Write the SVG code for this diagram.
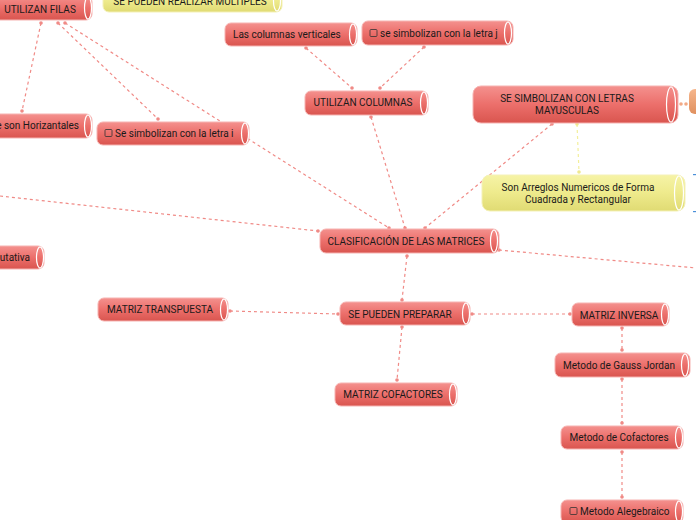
<svg xmlns="http://www.w3.org/2000/svg" width="696" height="520" viewBox="0 0 696 520">
<defs>
<linearGradient id="gr" x1="0" y1="0" x2="0" y2="1">
<stop offset="0" stop-color="#f4918e"/>
<stop offset="0.5" stop-color="#ec6f6b"/>
<stop offset="1" stop-color="#d9554f"/>
</linearGradient>
<linearGradient id="gy" x1="0" y1="0" x2="0" y2="1">
<stop offset="0" stop-color="#f6f3a6"/>
<stop offset="0.5" stop-color="#eeea8c"/>
<stop offset="1" stop-color="#e0db73"/>
</linearGradient>
<linearGradient id="go" x1="0" y1="0" x2="0" y2="1">
<stop offset="0" stop-color="#f6b68c"/>
<stop offset="1" stop-color="#e0905f"/>
</linearGradient>
</defs>
<style>
.n{fill:url(#gr);stroke:#f6b3b1;stroke-width:1}
.y{fill:url(#gy);stroke:#f4f1b8;stroke-width:1}
.e{fill:none;stroke:#ffffff;stroke-width:1.2}
.t{font-family:Roboto,"Liberation Sans",sans-serif;font-size:10px;fill:#1a1a1a}
.m{text-anchor:middle}
.c{fill:none;stroke:#f08a86;stroke-width:1.2;stroke-dasharray:3,3}
.cy{fill:none;stroke:#f3ef9a;stroke-width:1.2;stroke-dasharray:3,3}
.d{fill:#f08a86}
.dy{fill:#efe98f}
.cb{fill:none;stroke:#333;stroke-width:0.8}
.b{fill:#4a90d9}
</style>
<g id="connectors">
<line class="c" x1="41" y1="23" x2="22" y2="111"/>
<line class="c" x1="58" y1="23" x2="158" y2="119"/>
<line class="c" x1="65" y1="23" x2="389" y2="228"/>
<line class="c" x1="0" y1="196" x2="318" y2="231"/>
<line class="c" x1="306" y1="48" x2="352" y2="88"/>
<line class="c" x1="424" y1="47" x2="380" y2="88"/>
<line class="c" x1="371" y1="117" x2="405" y2="228"/>
<line class="c" x1="552" y1="124" x2="425" y2="228"/>
<line class="cy" x1="577" y1="124" x2="579" y2="172"/>
<line class="c" x1="499" y1="250" x2="696" y2="268"/>
<line class="c" x1="407" y1="256" x2="402" y2="300"/>
<line class="c" x1="230" y1="311" x2="338" y2="314"/>
<line class="c" x1="402" y1="327" x2="397" y2="380"/>
<line class="c" x1="472" y1="314" x2="570" y2="314"/>
<line class="c" x1="622" y1="328" x2="622" y2="350"/>
<line class="c" x1="622" y1="379" x2="622" y2="423"/>
<line class="c" x1="622" y1="452" x2="622" y2="497"/>
<rect class="b" x="693" y="174" width="3" height="1.2"/>
<rect class="b" x="693" y="211" width="3" height="1.2"/>
<circle class="d" cx="41" cy="23" r="1.8"/><circle class="d" cx="22" cy="111" r="1.8"/>
<circle class="d" cx="58" cy="23" r="1.8"/><circle class="d" cx="158" cy="119" r="1.8"/>
<circle class="d" cx="65" cy="23" r="1.8"/><circle class="d" cx="389" cy="228" r="1.8"/>
<circle class="d" cx="318" cy="231" r="1.8"/>
<circle class="d" cx="306" cy="48" r="1.8"/><circle class="d" cx="352" cy="88" r="1.8"/>
<circle class="d" cx="424" cy="47" r="1.8"/><circle class="d" cx="380" cy="88" r="1.8"/>
<circle class="d" cx="371" cy="117" r="1.8"/><circle class="d" cx="405" cy="228" r="1.8"/>
<circle class="d" cx="552" cy="124" r="1.8"/><circle class="d" cx="425" cy="228" r="1.8"/>
<circle class="dy" cx="577" cy="124" r="1.8"/><circle class="dy" cx="579" cy="172" r="1.8"/>
<circle class="d" cx="499" cy="250" r="1.8"/>
<circle class="d" cx="407" cy="256" r="1.8"/><circle class="d" cx="402" cy="300" r="1.8"/>
<circle class="d" cx="230" cy="311" r="1.8"/><circle class="d" cx="338" cy="314" r="1.8"/>
<circle class="d" cx="402" cy="327" r="1.8"/><circle class="d" cx="397" cy="380" r="1.8"/>
<circle class="d" cx="472" cy="314" r="1.8"/><circle class="d" cx="570" cy="314" r="1.8"/>
<circle class="d" cx="622" cy="328" r="1.8"/><circle class="d" cx="622" cy="350" r="1.8"/>
<circle class="d" cx="622" cy="379" r="1.8"/><circle class="d" cx="622" cy="423" r="1.8"/>
<circle class="d" cx="622" cy="452" r="1.8"/><circle class="d" cx="622" cy="497" r="1.8"/>
<circle cx="681" cy="104" r="1.8" fill="#f2a985"/><circle cx="686" cy="104" r="1.8" fill="#f2a985"/>
</g>
<g id="utilizan-filas">
<rect class="n" x="-12" y="-4" width="104" height="24" rx="6"/>
<ellipse class="e" cx="88" cy="8" rx="3.5" ry="11"/>
<text class="t m" x="40" y="13">UTILIZAN FILAS</text>
</g>
<g id="multiples">
<rect class="y" x="103" y="-10" width="179" height="22" rx="6"/>
<ellipse class="e" cx="277" cy="1" rx="3.5" ry="10"/>
<text class="t m" x="190" y="5">SE PUEDEN REALIZAR MULTIPLES</text>
</g>
<g id="columnas-verticales">
<rect class="n" x="225" y="23" width="132" height="23" rx="6"/>
<ellipse class="e" cx="353" cy="34.5" rx="3.5" ry="10.5"/>
<text class="t" x="233" y="38">Las columnas verticales</text>
</g>
<g id="letra-j">
<rect class="n" x="362" y="21" width="151" height="24" rx="6"/>
<ellipse class="e" cx="508" cy="33" rx="3.5" ry="11"/>
<rect class="cb" x="370" y="29.5" width="7" height="7" rx="1"/>
<text class="t" x="380" y="37">se simbolizan con la letra j</text>
</g>
<g id="utilizan-columnas">
<rect class="n" x="305" y="91" width="123" height="24" rx="6"/>
<ellipse class="e" cx="424" cy="103" rx="3.5" ry="11"/>
<text class="t m" x="363" y="106">UTILIZAN COLUMNAS</text>
</g>
<g id="mayusculas">
<rect class="n" x="473" y="86" width="205" height="37" rx="8"/>
<ellipse class="e" cx="671" cy="104.5" rx="4.5" ry="17.5"/>
<text class="t m" x="567" y="102">SE SIMBOLIZAN CON LETRAS</text>
<text class="t m" x="567" y="114">MAYUSCULAS</text>
</g>
<g id="orange-node">
<rect x="689" y="89" width="20" height="25" rx="6" fill="url(#go)"/>
</g>
<g id="arreglos">
<rect class="y" x="482" y="175" width="203" height="36" rx="8"/>
<ellipse class="e" cx="679" cy="193" rx="4.5" ry="17"/>
<text class="t m" x="578" y="191">Son Arreglos Numericos de Forma</text>
<text class="t m" x="578" y="203">Cuadrada y Rectangular</text>
</g>
<g id="horizantales">
<rect class="n" x="-12" y="114" width="104" height="24" rx="6"/>
<ellipse class="e" cx="88" cy="126" rx="3.5" ry="11"/>
<text class="t" x="79" y="129" text-anchor="end">e son Horizantales</text>
</g>
<g id="letra-i">
<rect class="n" x="97" y="122" width="152" height="23" rx="6"/>
<ellipse class="e" cx="245" cy="133.5" rx="3.5" ry="10.5"/>
<rect class="cb" x="105" y="129.5" width="7" height="7" rx="1"/>
<text class="t" x="115" y="137">Se simbolizan con la letra i</text>
</g>
<g id="clasificacion">
<rect class="n" x="320" y="229" width="179" height="24" rx="6"/>
<ellipse class="e" cx="494" cy="241" rx="3.5" ry="11"/>
<text class="t m" x="406" y="245">CLASIFICACIÓN DE LAS MATRICES</text>
</g>
<g id="conmutativa">
<rect class="n" x="-12" y="246" width="56" height="23" rx="6"/>
<ellipse class="e" cx="40" cy="257.5" rx="3.5" ry="10.5"/>
<text class="t" x="30" y="261" text-anchor="end">utativa</text>
</g>
<g id="transpuesta">
<rect class="n" x="98" y="298" width="130" height="23" rx="6"/>
<ellipse class="e" cx="224" cy="309.5" rx="3.5" ry="10.5"/>
<text class="t m" x="160" y="313">MATRIZ TRANSPUESTA</text>
</g>
<g id="preparar">
<rect class="n" x="340" y="302" width="130" height="23" rx="6"/>
<ellipse class="e" cx="466" cy="313.5" rx="3.5" ry="10.5"/>
<text class="t m" x="400" y="318">SE PUEDEN PREPARAR</text>
</g>
<g id="cofactores-matriz">
<rect class="n" x="335" y="383" width="122" height="23" rx="6"/>
<ellipse class="e" cx="453" cy="394.5" rx="3.5" ry="10.5"/>
<text class="t m" x="393" y="398">MATRIZ COFACTORES</text>
</g>
<g id="inversa">
<rect class="n" x="572" y="303" width="97" height="23" rx="6"/>
<ellipse class="e" cx="665" cy="314.5" rx="3.5" ry="10.5"/>
<text class="t m" x="619" y="319">MATRIZ INVERSA</text>
</g>
<g id="gauss">
<rect class="n" x="555" y="353" width="135" height="24" rx="6"/>
<ellipse class="e" cx="685" cy="365" rx="3.5" ry="11"/>
<text class="t m" x="619" y="369">Metodo de Gauss Jordan</text>
</g>
<g id="metodo-cofactores">
<rect class="n" x="561" y="426" width="122" height="23" rx="6"/>
<ellipse class="e" cx="679" cy="437.5" rx="3.5" ry="10.5"/>
<text class="t m" x="619" y="441">Metodo de Cofactores</text>
</g>
<g id="alegebraico">
<rect class="n" x="561" y="500" width="122" height="23" rx="6"/>
<ellipse class="e" cx="679" cy="511.5" rx="3.5" ry="10.5"/>
<rect class="cb" x="570" y="507.5" width="7" height="7" rx="1"/>
<text class="t" x="580" y="515">Metodo Alegebraico</text>
</g>
</svg>
